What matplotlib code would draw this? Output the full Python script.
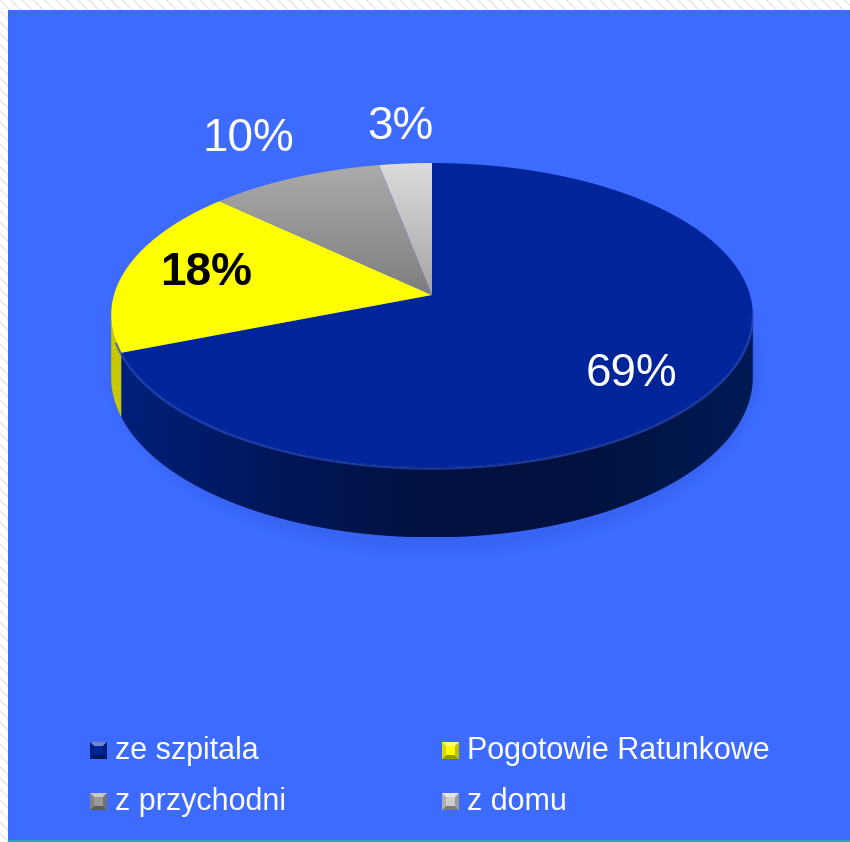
import numpy as np
import matplotlib
matplotlib.use("Agg")
import matplotlib.pyplot as plt
from matplotlib.patches import Polygon, Rectangle, Ellipse
from matplotlib.colors import LinearSegmentedColormap, to_rgb

# ---- data -------------------------------------------------------------
categories = ["ze szpitala", "Pogotowie Ratunkowe", "z przychodni", "z domu"]
shares = [69, 18, 10, 3]
value_labels = ["69%", "18%", "10%", "3%"]

# ---- style ------------------------------------------------------------
BG = "#3D6BFF"
TOP_COLORS = ["#00249A", "#FFFF00", "#9A9A9A", "#CDCDCD"]
TOP_SHADE = [("#00249A", "#00249A"), ("#FFFF00", "#FFFF00"),
             ("#ABABAB", "#7E7E7E"), ("#DCDCDC", "#A4A4A4")]
SIDE_COLORS = ["#001650", "#C8C800", "#6A6A6A", "#9A9A9A"]
FONT = "Liberation Sans"

W, H = 850, 842
fig = plt.figure(figsize=(W / 100, H / 100), dpi=100)
ax = fig.add_axes([0, 0, 1, 1])
ax.set_xlim(0, W)
ax.set_ylim(H, 0)
ax.axis("off")

# frame: hatched white margin, blue panel, teal base line
ax.add_patch(Rectangle((0, 0), W, H, facecolor="white", edgecolor="#E6E6E6",
                       hatch="\\\\\\", linewidth=0, zorder=0))
ax.add_patch(Rectangle((8, 10), W - 8, 830, facecolor=BG, edgecolor="none", zorder=1))
ax.add_patch(Rectangle((8, 840), W - 8, 3, facecolor="#2AA8B8", edgecolor="none", zorder=1))

# ---- 3D pie geometry (perspective-projected disc) ---------------------
CX, CY = 432.0, 295.0
SX, SY = 318.0, 149.4
K = 0.132
DEPTH = 61.0


def rim(theta_deg, drop=0.0):
    t = np.radians(theta_deg)
    d = 1 + K * np.sin(t)
    x = CX + SX * np.cos(t) / d
    y = CY - SY * np.sin(t) / d + drop / d
    return x, y


def gradient_fill(poly, stops, direction="v", zorder=3):
    xs, ys = poly[:, 0], poly[:, 1]
    x0, x1, y0, y1 = xs.min(), xs.max(), ys.min(), ys.max()
    cmap = LinearSegmentedColormap.from_list("g", stops)
    g = np.linspace(0, 1, 256)
    img = g[:, None] * np.ones((1, 4)) if direction == "v" else np.ones((4, 1)) * g[None, :]
    im = ax.imshow(img, cmap=cmap, extent=[x0, x1, y1, y0], origin="upper",
                   aspect="auto", interpolation="bilinear", zorder=zorder)
    im.set_clip_path(Polygon(poly, closed=True, transform=ax.transData))
    return im


# slice angle ranges: start at 12 o'clock and go clockwise
total = float(sum(shares))
bounds = [90.0]
for v in shares:
    bounds.append(bounds[-1] - 360.0 * v / total)

# soft shadow under the pie
for i, a in enumerate(np.linspace(0.025, 0.01, 4)):
    ax.add_patch(Ellipse((CX + 4, CY + 36 + DEPTH * 0.6), 2 * SX + 6 + 8 * i,
                         2 * SY + 62 + 8 * i, facecolor="#0A1E70",
                         alpha=a, edgecolor="none", zorder=2))

# front wall (visible between the horizontal extremes of the rim)
t_left = 180 + np.degrees(np.arcsin(K))
t_right = 360 - np.degrees(np.arcsin(K))
for i in range(len(shares)):
    lo, hi = bounds[i + 1], bounds[i]
    while lo < 0:
        lo += 360
        hi += 360
    segs = []
    for off in (0, 360, -360):
        s0 = max(lo + off, t_left)
        s1 = min(hi + off, t_right)
        if s1 > s0:
            segs.append((s0, s1))
    for s0, s1 in segs:
        th = np.linspace(s0, s1, 200)
        tx, ty = rim(th)
        bx, by = rim(th[::-1], DEPTH)
        poly = np.column_stack([np.r_[tx, bx], np.r_[ty, by]])
        if i == 0:
            gradient_fill(poly, ["#00207A", "#001658", "#00113F", "#00123F", "#001A55"],
                          direction="h", zorder=3)
        else:
            ax.add_patch(Polygon(poly, closed=True, facecolor=SIDE_COLORS[i],
                                 edgecolor="none", zorder=3))

# top faces
for i in range(len(shares)):
    th = np.linspace(bounds[i], bounds[i + 1], 300)
    px, py = rim(th)
    poly = np.column_stack([np.r_[CX, px], np.r_[CY, py]])
    c0, c1 = TOP_SHADE[i]
    if c0 == c1:
        ax.add_patch(Polygon(poly, closed=True, facecolor=TOP_COLORS[i],
                             edgecolor="none", zorder=4))
    else:
        gradient_fill(poly, [c0, c1], direction="v", zorder=4)

# thin highlight along the front rim
th = np.linspace(t_left + 10, t_right, 300)
hx, hy = rim(th)
ax.plot(hx, hy + 1.5, color="#2A4BC0", lw=1.6, alpha=0.7, zorder=5,
        solid_capstyle="round")

# value labels
ax.text(631, 374, value_labels[0], color="white", fontsize=33, family=FONT,
        ha="center", va="center", zorder=6)
ax.text(206, 273, value_labels[1], color="black", fontsize=33, family=FONT,
        fontweight="bold", ha="center", va="center", zorder=6)
ax.text(248, 139, value_labels[2], color="white", fontsize=33, family=FONT,
        ha="center", va="center", zorder=6)
ax.text(400, 127, value_labels[3], color="white", fontsize=33, family=FONT,
        ha="center", va="center", zorder=6)


# ---- legend -----------------------------------------------------------
def bevel_marker(x, y, s, color):
    base = np.array(to_rgb(color))
    light = np.clip(base + (1 - base) * 0.45, 0, 1)
    dark = base * 0.6
    b = 4
    ax.add_patch(Rectangle((x, y), s, s, facecolor=base, edgecolor="none", zorder=6))
    ax.add_patch(Polygon([(x, y), (x + s, y), (x + s - b, y + b), (x + b, y + b)],
                         facecolor=light, edgecolor="none", zorder=7))
    ax.add_patch(Polygon([(x, y + s), (x + s, y + s), (x + s - b, y + s - b), (x + b, y + s - b)],
                         facecolor=dark, edgecolor="none", zorder=7))
    ax.add_patch(Polygon([(x, y), (x + b, y + b), (x + b, y + s - b), (x, y + s)],
                         facecolor=base * 0.85, edgecolor="none", zorder=7))
    ax.add_patch(Polygon([(x + s, y), (x + s - b, y + b), (x + s - b, y + s - b), (x + s, y + s)],
                         facecolor=base * 0.75, edgecolor="none", zorder=7))


legend_pos = [(90, 742), (442, 742), (90, 793), (442, 793)]
legend_marker_colors = ["#00249A", "#FFFF00", "#9A9A9A", "#CDCDCD"]
for (mx, my), name, col in zip(legend_pos, categories, legend_marker_colors):
    bevel_marker(mx, my, 17, col)
    ax.text(mx + 25, my + 17, name, color="white", fontsize=22, family=FONT,
            ha="left", va="baseline", zorder=7)

fig.savefig("out.png", dpi=100, facecolor="white")
